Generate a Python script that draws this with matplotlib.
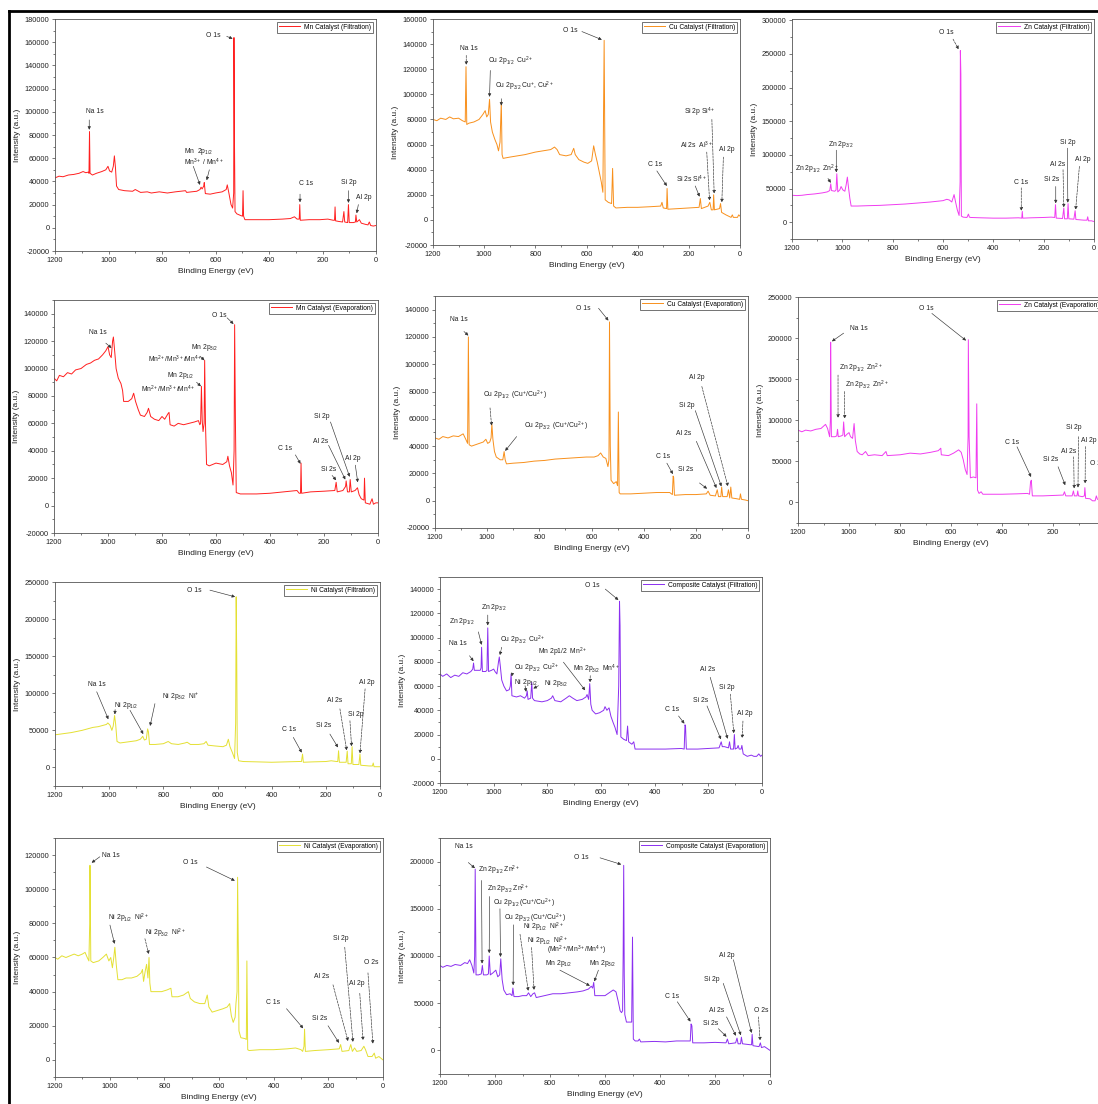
import matplotlib
matplotlib.use('Agg')
import matplotlib.pyplot as plt
from matplotlib.ticker import MultipleLocator, AutoMinorLocator, FuncFormatter
from matplotlib.lines import Line2D

plt.rcParams['font.family'] = ['Liberation Sans', 'DejaVu Sans']
plt.rcParams['mathtext.fontset'] = 'custom'
plt.rcParams['mathtext.rm'] = 'Liberation Sans'
plt.rcParams['mathtext.it'] = 'Liberation Sans:italic'
plt.rcParams['mathtext.bf'] = 'Liberation Sans:bold'

########################################
# Survey spectra, (binding energy eV, intensity a.u.).

mn_filt = [
    (1200, 43000), (1185, 44500), (1170, 44000), (1150, 45500), (1130, 46000), (1110, 47000),
    (1095, 48500), (1085, 47500), (1075, 48000), (1073, 47000), (1071, 83000), (1069, 47000),
    (1060, 45500), (1045, 47000), (1025, 48500), (1010, 50000), (1002, 53000), (996, 49000),
    (988, 48000), (982, 53000), (978, 62000), (974, 52000), (970, 36000), (962, 33000),
    (940, 32000), (910, 31500), (900, 33000), (880, 30500), (855, 31000), (840, 30000),
    (810, 31000), (780, 30000), (750, 31000), (712, 32000), (708, 30500), (690, 31000),
    (670, 31500), (658, 33000), (654, 35000), (650, 33500), (644, 36000), (642, 39000),
    (638, 29500), (620, 29000), (600, 30000), (575, 31000), (560, 33000), (556, 37000),
    (550, 30000), (542, 20000), (536, 17000), (532, 30000), (531, 164000), (529, 72000),
    (527, 14000), (520, 12000), (505, 10500), (499, 10000), (497, 32000), (495, 10000),
    (490, 7000), (450, 7000), (400, 7000), (350, 7500), (320, 8000), (305, 9500), (295, 7500),
    (287, 7500), (285, 20000), (283, 6500), (250, 7000), (210, 7000), (180, 7500), (160, 6500),
    (155, 6500), (153, 18000), (151, 6000), (140, 5500), (125, 5000), (120, 14000), (117, 5000),
    (106, 4500), (103, 20000), (100, 4500), (85, 4500), (77, 5000), (75, 11000), (72, 5000),
    (62, 7000), (55, 4000), (40, 3000), (30, 2500), (25, 5000), (20, 2000), (10, 1500), (0, 2000)]

cu_filt = [
    (1200, 80000), (1185, 79000), (1170, 81000), (1150, 80000), (1135, 82000), (1120, 80500),
    (1100, 81000), (1085, 79000), (1074, 78000), (1071, 122000), (1068, 76000), (1060, 77000),
    (1040, 78000), (1020, 80000), (1005, 84000), (996, 87000), (990, 82000), (984, 84000),
    (979, 96000), (975, 78000), (968, 70000), (958, 64000), (950, 60000), (944, 55000),
    (938, 62000), (933, 94000), (930, 52000), (926, 49000), (900, 50000), (870, 51000),
    (840, 52000), (800, 54000), (770, 55000), (740, 56000), (725, 58000), (715, 56000),
    (705, 52000), (680, 51000), (660, 52000), (650, 57000), (644, 52000), (630, 48000),
    (610, 46000), (595, 45000), (580, 47000), (572, 59000), (565, 52000), (558, 46000),
    (550, 38000), (542, 30000), (536, 22000), (531, 143000), (527, 16000), (515, 14000),
    (502, 13000), (498, 41000), (494, 11000), (485, 9500), (440, 10000), (400, 10000),
    (350, 10500), (310, 11000), (305, 14000), (300, 9500), (287, 9000), (285, 25000),
    (282, 8500), (240, 9000), (200, 9500), (160, 10000), (155, 17000), (151, 9000),
    (125, 11000), (118, 14000), (112, 8000), (105, 8000), (103, 20000), (100, 8000),
    (80, 9000), (76, 13000), (72, 6000), (55, 4000), (35, 2000), (30, 4000), (26, 2000),
    (10, 2000), (5, 4000), (0, 3000)]

zn_filt = [
    (1200, 40000), (1180, 39500), (1160, 40000), (1140, 41000), (1110, 42000), (1080, 43500),
    (1060, 45000), (1050, 47000), (1046, 57000), (1043, 47000), (1030, 46000), (1025, 48000),
    (1022, 72000), (1018, 45000), (1010, 48000), (1005, 53000), (998, 48000), (990, 46000),
    (985, 55000), (980, 67000), (975, 50000), (970, 35000), (965, 24000), (940, 24000),
    (900, 24500), (850, 25000), (800, 26000), (750, 27000), (700, 28500), (650, 30000),
    (600, 32000), (585, 34000), (575, 33000), (565, 30000), (556, 41000), (550, 30000),
    (543, 18000), (536, 10000), (532, 60000), (531, 255000), (529, 220000), (527, 9000),
    (520, 7500), (505, 7000), (499, 12000), (495, 7500), (490, 7000), (450, 6500), (400, 6000),
    (350, 6000), (300, 6500), (287, 6000), (285, 16000), (283, 6000), (250, 6500), (200, 7000),
    (170, 7500), (156, 7000), (153, 26000), (150, 6000), (125, 5500), (120, 21000), (117, 5000),
    (106, 5000), (103, 27500), (100, 5000), (80, 4500), (75, 17000), (72, 4000), (40, 3000),
    (28, 3000), (25, 8000), (22, 2000), (10, 2000), (0, 1000)]

mn_evap = [
    (1200, 93000), (1190, 91000), (1180, 95000), (1165, 94000), (1150, 97000), (1135, 96000),
    (1120, 99000), (1100, 100000), (1080, 103000), (1065, 104000), (1050, 106000), (1035, 107000),
    (1020, 110000), (1008, 113000), (1000, 116000), (994, 110000), (988, 108000), (983, 120000),
    (980, 123000), (975, 112000), (970, 100000), (962, 93000), (952, 89000), (946, 84000),
    (942, 76000), (925, 76000), (912, 78000), (905, 82000), (898, 76000), (888, 70000),
    (880, 66000), (865, 65000), (855, 68000), (850, 71000), (842, 65000), (828, 63000),
    (812, 62000), (800, 65000), (790, 63000), (778, 67000), (774, 68000), (770, 59000),
    (755, 58000), (740, 60000), (720, 59000), (700, 60000), (680, 61000), (665, 62000),
    (660, 59000), (657, 60000), (654, 87000), (651, 62000), (648, 54000), (644, 60000),
    (642, 106000), (639, 60000), (635, 30000), (625, 29000), (600, 31000), (575, 30000),
    (560, 32000), (556, 36000), (550, 29000), (543, 24000), (537, 15000), (533, 40000),
    (531, 132000), (528, 60000), (525, 9500), (510, 8500), (490, 8500), (450, 8500), (400, 9000),
    (350, 10000), (300, 11000), (292, 9000), (287, 9000), (285, 31000), (283, 9000), (250, 10000),
    (200, 10500), (160, 11000), (155, 17000), (151, 10000), (130, 11000), (120, 14000),
    (118, 18000), (113, 10000), (106, 10000), (103, 19000), (99, 10000), (85, 11000),
    (76, 13000), (70, 8000), (62, 5000), (52, 4000), (50, 20000), (47, 2000), (30, 1000),
    (22, 5000), (17, 1000), (8, 2000), (0, 2000)]

cu_evap = [
    (1200, 46000), (1185, 45000), (1170, 47000), (1150, 46000), (1130, 47500), (1110, 47000),
    (1092, 49000), (1082, 45000), (1075, 42000), (1072, 120000), (1069, 41000), (1060, 40000),
    (1045, 41000), (1030, 42000), (1015, 43000), (1005, 45000), (998, 42000), (990, 43000),
    (985, 46000), (982, 56000), (978, 45000), (972, 36000), (965, 32000), (950, 30000),
    (940, 30000), (935, 36000), (931, 30000), (926, 27000), (900, 27500), (860, 28000),
    (820, 29000), (780, 29500), (740, 30500), (700, 31000), (660, 31500), (620, 32000),
    (590, 32000), (575, 33000), (565, 35000), (555, 32000), (545, 31000), (537, 25000),
    (533, 30000), (531, 131000), (528, 40000), (525, 15000), (515, 12500), (505, 14000),
    (500, 11000), (497, 65000), (494, 6000), (490, 5000), (450, 5000), (400, 5500), (350, 6000),
    (300, 6000), (290, 4500), (287, 18000), (285, 17000), (282, 4000), (240, 4500), (200, 4500),
    (160, 5000), (153, 7000), (145, 4000), (125, 3500), (118, 8000), (113, 3000), (104, 3000),
    (101, 10000), (97, 3000), (80, 3000), (75, 8000), (70, 2000), (66, 10000), (62, 2000),
    (45, 1500), (32, 1000), (29, 5000), (25, 1000), (10, 500), (0, 0)]

zn_evap = [
    (1200, 88000), (1185, 86000), (1170, 88000), (1150, 87000), (1130, 89000), (1110, 90000),
    (1092, 95000), (1084, 90000), (1076, 80000), (1073, 100000), (1072, 195000), (1069, 80000),
    (1055, 80000), (1048, 81000), (1045, 89000), (1042, 80000), (1030, 81000), (1024, 82000),
    (1021, 98000), (1017, 80000), (1008, 83000), (1000, 85000), (994, 80000), (986, 78000),
    (980, 96000), (975, 75000), (968, 62000), (958, 59000), (948, 58000), (935, 62000),
    (925, 57000), (900, 58000), (870, 57000), (855, 62000), (850, 57000), (800, 58000),
    (760, 60000), (720, 59000), (680, 61000), (650, 63000), (640, 66000), (638, 58000),
    (610, 57000), (590, 60000), (570, 64000), (560, 61000), (552, 52000), (544, 40000),
    (537, 34000), (533, 80000), (532, 198000), (529, 80000), (524, 30000), (512, 31000),
    (502, 30000), (499, 120000), (496, 15000), (490, 11000), (482, 13000), (475, 10000),
    (400, 10000), (340, 10500), (300, 11000), (292, 10000), (288, 25000), (285, 27000),
    (281, 8000), (240, 8000), (200, 8500), (160, 9000), (155, 13000), (150, 8000), (125, 8000),
    (120, 14000), (116, 8000), (106, 8000), (103, 14000), (100, 8000), (85, 7000), (77, 8000),
    (75, 18000), (72, 5000), (55, 4500), (45, 2000), (35, 2000), (30, 8000), (26, 4000),
    (12, 2000), (0, 1000)]

ni_filt = [
    (1200, 44000), (1180, 45000), (1160, 46000), (1140, 47000), (1120, 48500), (1100, 50000),
    (1080, 52000), (1060, 54000), (1040, 55000), (1020, 57000), (1010, 58000), (1005, 60000),
    (997, 57000), (990, 50000), (985, 56000), (980, 70000), (976, 58000), (971, 35000),
    (960, 33000), (940, 34000), (920, 35000), (900, 36000), (885, 38000), (876, 42000),
    (870, 37000), (863, 38000), (858, 52000), (855, 48000), (851, 31000), (830, 31000),
    (800, 32000), (782, 35000), (770, 32000), (745, 31000), (720, 33000), (712, 34000),
    (700, 31000), (670, 31000), (650, 32000), (642, 35000), (635, 30000), (610, 29000),
    (580, 28000), (567, 30000), (560, 38000), (554, 28000), (545, 20000), (537, 12000),
    (533, 60000), (531, 230000), (529, 150000), (527, 20000), (522, 9000), (505, 8000),
    (450, 7500), (400, 7000), (350, 7500), (300, 8000), (290, 8000), (286, 18000), (283, 7000),
    (250, 7500), (200, 8000), (180, 9000), (160, 8000), (156, 8000), (153, 22500), (150, 7000),
    (125, 7000), (121, 22000), (118, 5000), (106, 5000), (103, 28000), (100, 4000), (78, 4000),
    (74, 18000), (71, 3000), (40, 2000), (28, 2000), (25, 6000), (22, 1000), (10, 1000), (0, 1000)]

comp_filt = [
    (1200, 70000), (1190, 68000), (1175, 70000), (1160, 67000), (1145, 69000), (1130, 68000),
    (1115, 71000), (1100, 70000), (1085, 72000), (1078, 74000), (1075, 79000), (1072, 73000),
    (1060, 73000), (1050, 73000), (1047, 75000), (1045, 92000), (1042, 72000), (1030, 72000),
    (1025, 73000), (1022, 108000), (1019, 72000), (1008, 73000), (1000, 74000), (995, 72000),
    (988, 70000), (982, 80000), (979, 84000), (975, 76000), (970, 65000), (962, 60000),
    (952, 56000), (942, 57000), (938, 60000), (935, 70000), (932, 52000), (915, 51000),
    (900, 52000), (885, 50000), (878, 52000), (875, 56000), (872, 49000), (862, 50000),
    (858, 63000), (855, 50000), (848, 48000), (820, 47000), (800, 48000), (785, 50000),
    (780, 52000), (772, 48000), (750, 47000), (730, 50000), (718, 52000), (705, 50000),
    (690, 48000), (670, 49000), (656, 51000), (652, 53000), (646, 49000), (642, 62000),
    (638, 45000), (633, 40000), (620, 37000), (605, 38000), (590, 40000), (585, 43000),
    (578, 40000), (570, 42000), (563, 35000), (555, 30000), (548, 26000), (540, 20000),
    (534, 60000), (531, 130000), (529, 110000), (526, 18000), (515, 16000), (505, 15000),
    (501, 27000), (497, 14000), (485, 12000), (478, 14000), (473, 8000), (420, 8000),
    (360, 8000), (300, 8500), (290, 8000), (287, 28000), (285, 27000), (282, 8000), (240, 8000),
    (200, 8500), (160, 9000), (152, 14000), (148, 10000), (140, 10000), (125, 9000),
    (121, 14000), (117, 8000), (106, 8000), (103, 20000), (100, 8000), (92, 9000), (89, 11000),
    (85, 8000), (78, 8000), (75, 11000), (70, 4000), (55, 2000), (40, 3000), (30, 2000),
    (20, 2000), (12, 4000), (5, 2000), (0, 3000)]

ni_evap = [
    (1200, 60000), (1190, 59000), (1175, 61000), (1160, 60000), (1145, 61000), (1130, 62000),
    (1115, 61000), (1100, 62000), (1090, 63000), (1082, 60000), (1076, 58000), (1073, 80000),
    (1072, 114000), (1069, 58000), (1060, 57000), (1050, 57500), (1040, 58000), (1025, 60000),
    (1012, 62000), (1003, 58000), (996, 60000), (990, 54000), (985, 60000), (981, 66000),
    (976, 56000), (970, 47000), (955, 47000), (940, 48000), (920, 48000), (900, 49000),
    (885, 51000), (880, 53000), (876, 46000), (870, 52000), (865, 56000), (860, 48000),
    (856, 60000), (853, 45000), (849, 40000), (830, 40000), (810, 40000), (790, 41000),
    (776, 42000), (772, 37000), (750, 37000), (730, 38000), (712, 40000), (705, 36000),
    (690, 34000), (670, 33000), (652, 33000), (643, 38000), (637, 31000), (625, 28000),
    (605, 29000), (585, 30000), (570, 31000), (561, 33000), (555, 26000), (548, 22000),
    (541, 25000), (538, 33000), (534, 40000), (532, 107000), (529, 60000), (527, 17000),
    (520, 13000), (505, 12500), (500, 12000), (498, 58000), (495, 6000), (490, 5500),
    (450, 6000), (400, 6000), (350, 6500), (320, 7000), (300, 6000), (294, 5000), (289, 8000),
    (287, 18000), (284, 5000), (250, 5500), (200, 6000), (160, 6500), (155, 9000), (150, 5000),
    (125, 5500), (118, 9000), (112, 5000), (104, 7000), (96, 5000), (80, 5500), (70, 8000),
    (64, 6000), (55, 2000), (40, 2000), (32, 4000), (27, 1000), (15, 2000), (0, 0)]

comp_evap = [
    (1200, 90000), (1190, 88000), (1175, 90000), (1160, 89000), (1145, 91000), (1125, 90000),
    (1110, 93000), (1100, 92000), (1092, 96000), (1084, 90000), (1077, 82000), (1074, 100000),
    (1072, 192000), (1069, 80000), (1060, 80000), (1050, 81000), (1046, 90000), (1042, 80000),
    (1030, 80000), (1024, 81000), (1021, 100000), (1017, 80000), (1008, 82000), (997, 85000),
    (990, 78000), (983, 80000), (979, 97000), (974, 75000), (968, 64000), (958, 59000),
    (945, 60000), (938, 58000), (935, 66000), (931, 57000), (915, 57000), (900, 58000),
    (885, 58000), (878, 61000), (870, 57000), (862, 60000), (856, 61000), (850, 56000),
    (820, 58000), (790, 60000), (760, 60000), (730, 61000), (700, 62000), (680, 63000),
    (660, 65000), (650, 68000), (645, 66000), (641, 72000), (637, 58000), (620, 58000),
    (600, 58000), (585, 61000), (570, 64000), (560, 62000), (552, 52000), (545, 42000),
    (540, 40000), (536, 42000), (534, 100000), (532, 196000), (530, 80000), (528, 38000),
    (522, 30000), (512, 30000), (503, 30000), (500, 120000), (497, 12000), (490, 10000),
    (480, 10000), (475, 12000), (470, 9000), (420, 9500), (380, 9000), (340, 10000),
    (300, 10000), (290, 10000), (287, 28000), (284, 26000), (281, 8000), (240, 8000),
    (200, 8500), (160, 8000), (155, 12000), (150, 7000), (125, 8000), (120, 13000), (116, 7000),
    (107, 7000), (104, 14000), (100, 7000), (72, 6000), (67, 6000), (65, 17000), (62, 5000),
    (40, 4000), (35, 8000), (31, 3000), (20, 4000), (10, 2000), (0, 0)]

# peak labels: (text, x, y, ha) and leader arrows: (x0, y0, x1, y1, dashed)
mn_filt_notes = [
    ('O 1s', 608, 166000, 'center'), ('Na 1s', 1053, 100000, 'center'),
    ('Mn  2p$_{1/2}$', 664, 66000, 'center'), ('Mn$^{3+}$ / Mn$^{4+}$', 645, 56500, 'center'),
    ('C 1s', 263, 38000, 'center'), ('Si 2p', 103, 38700, 'center'), ('Al 2p', 47, 25800, 'center')]
mn_filt_arrows = [
    (558, 165000, 536, 163000, False), (1072, 93000, 1072, 84500, False),
    (683, 53000, 658, 37000, False), (623, 50000, 633, 41000, False),
    (284, 29000, 284, 22000, False), (103, 32000, 103, 21500, False), (66, 20000, 72, 12500, False)]

cu_filt_notes = [
    ('O 1s', 664, 151000, 'center'), ('Na 1s', 1061, 136500, 'center'),
    ('Cu 2p$_{1/2}$  Cu$^{2+}$', 986, 126000, 'left'),
    ('Cu 2p$_{3/2}$ Cu$^{+}$, Cu$^{2+}$', 959, 106000, 'left'),
    ('C 1s', 331, 44000, 'center'), ('Si 2s Si$^{4+}$', 188, 32500, 'center'),
    ('Al 2s  Al$^{3+}$', 236, 59000, 'left'), ('Si 2p Si$^{4+}$', 156, 85600, 'center'),
    ('Al 2p', 52, 56000, 'center')]
cu_filt_arrows = [
    (618, 150000, 540, 143500, False), (1070, 131000, 1070, 123500, True),
    (976, 119000, 979, 98000, False), (933, 96500, 933, 91000, False),
    (325, 39000, 286, 27000, False), (175, 27000, 158, 18500, False),
    (130, 54000, 119, 15500, True), (110, 80000, 101, 21000, True), (65, 50000, 71, 14000, True)]

zn_filt_notes = [
    ('O 1s', 587, 282000, 'center'), ('Zn 2p$_{3/2}$', 1004, 115000, 'center'),
    ('Zn 2p$_{1/2}$  Zn$^{2+}$', 1187, 78000, 'left'), ('C 1s', 291, 59000, 'center'),
    ('Si 2s', 167, 63000, 'center'), ('Al 2s', 143, 86000, 'center'),
    ('Si 2p', 106, 119000, 'center'), ('Al 2p', 44, 92500, 'center')]
zn_filt_arrows = [
    (560, 272000, 538, 257000, True), (1024, 107000, 1024, 74000, False),
    (1057, 65000, 1046, 58500, False), (289, 51000, 289, 17000, True),
    (152, 53000, 152, 28000, False), (123, 78000, 120, 22000, True),
    (106, 110000, 104, 29000, False), (58, 83000, 73, 18500, True)]

mn_evap_notes = [
    ('O 1s', 587, 139000, 'center'), ('Na 1s', 1037, 126500, 'center'),
    ('Mn 2p$_{3/2}$', 644, 115000, 'center'),
    ('Mn$^{2+}$/Mn$^{3+}$/Mn$^{4+}$', 752, 107000, 'center'),
    ('Mn 2p$_{1/2}$', 730, 95000, 'center'),
    ('Mn$^{2+}$/Mn$^{3+}$/Mn$^{4+}$', 777, 85000, 'center'),
    ('C 1s', 346, 41700, 'center'), ('Si 2s', 183, 26600, 'center'),
    ('Al 2s', 214, 47000, 'center'), ('Si 2p', 207, 65000, 'center'), ('Al 2p', 94, 34400, 'center')]
mn_evap_arrows = [
    (559, 137000, 535, 132500, False), (1008, 118500, 987, 115000, False),
    (659, 109000, 643, 106000, False), (672, 90000, 656, 87000, False),
    (306, 37000, 287, 30500, False), (170, 22000, 155, 18500, False),
    (183, 44000, 121, 19000, False), (176, 61000, 105, 21000, False), (84, 29500, 75, 17000, False)]

cu_evap_notes = [
    ('O 1s', 633, 141000, 'center'), ('Na 1s', 1107, 133000, 'center'),
    ('Cu 2p$_{1/2}$  (Cu$^{+}$/Cu$^{2+}$)', 1015, 77000, 'left'),
    ('Cu 2p$_{3/2}$  (Cu$^{+}$/Cu$^{2+}$)', 858, 54400, 'left'),
    ('C 1s', 324, 32400, 'center'), ('Si 2s', 241, 22700, 'center'),
    ('Al 2s', 247, 49000, 'center'), ('Si 2p', 234, 70000, 'center'), ('Al 2p', 198, 90000, 'center')]
cu_evap_arrows = [
    (573, 141000, 535, 132000, False), (1089, 124000, 1072, 121000, False),
    (989, 68000, 983, 55000, True), (887, 47000, 931, 36500, False),
    (311, 27500, 288, 19500, False), (186, 13000, 157, 8800, False),
    (198, 43500, 121, 9300, False), (202, 66000, 102, 10500, False), (177, 83700, 77, 10500, True)]

zn_evap_notes = [
    ('O 1s', 698, 236000, 'center'), ('Na 1s', 962, 212000, 'center'),
    ('Zn 2p$_{1/2}$  Zn$^{2+}$', 1041, 163000, 'left'),
    ('Zn 2p$_{3/2}$  Zn$^{2+}$', 1014, 143000, 'left'),
    ('C 1s', 361, 73000, 'center'), ('Si 2s', 211, 52700, 'center'),
    ('Al 2s', 139, 62400, 'center'), ('Si 2p', 119, 91000, 'center'),
    ('Al 2p', 60, 75800, 'center'), ('O 2s', 56, 48000, 'left')]
zn_evap_arrows = [
    (675, 230000, 541, 197000, False), (1021, 206000, 1067, 196000, False),
    (1043, 155000, 1043, 103000, True), (1017, 135000, 1017, 102000, True),
    (341, 67700, 286, 31000, False), (180, 43400, 152, 21000, False),
    (119, 55500, 117, 17000, True), (100, 80000, 102, 18000, True), (73, 68000, 74, 23000, True)]

ni_filt_notes = [
    ('O 1s', 687, 239000, 'center'), ('Na 1s', 1046, 112000, 'center'),
    ('Ni 2p$_{1/2}$', 982, 83600, 'left'), ('Ni 2p$_{3/2}$  Ni$^{+}$', 806, 95000, 'left'),
    ('C 1s', 336, 51000, 'center'), ('Si 2s', 209, 56000, 'center'),
    ('Al 2s', 166, 90000, 'center'), ('Si 2p', 89, 71400, 'center'), ('Al 2p', 49, 114000, 'center')]
ni_filt_arrows = [
    (628, 239000, 535, 230000, False), (1046, 102000, 1003, 65000, False),
    (978, 78000, 979, 71500, False),
    (923, 77000, 874, 45000, False), (831, 86000, 849, 56000, False),
    (320, 40500, 289, 20000, False), (185, 45000, 155, 27000, False),
    (148, 79000, 123, 23000, True), (111, 63000, 105, 28500, True), (55, 106000, 74, 19000, True)]

comp_filt_notes = [
    ('O 1s', 634, 143000, 'center'), ('Na 1s', 1132, 95000, 'center'),
    ('Zn 2p$_{1/2}$', 1119, 113000, 'center'), ('Zn 2p$_{3/2}$', 1001, 125000, 'center'),
    ('Cu 2p$_{3/2}$  Cu$^{2+}$', 976, 97800, 'left'),
    ('Cu 2p$_{3/2}$  Cu$^{2+}$', 926, 75000, 'left'),
    ('Ni 2p$_{1/2}$', 924, 63000, 'left'), ('Ni 2p$_{3/2}$', 814, 61700, 'left'),
    ('Mn 2p1/2  Mn$^{2+}$', 833, 87500, 'left'), ('Mn 2p$_{3/2}$  Mn$^{4+}$', 705, 74000, 'left'),
    ('C 1s', 335, 40800, 'center'), ('Si 2s', 230, 47800, 'center'),
    ('Al 2s', 202, 74000, 'center'), ('Si 2p', 130, 59000, 'center'), ('Al 2p', 66, 37500, 'center')]
comp_filt_arrows = [
    (584, 140000, 535, 131000, False), (1090, 85000, 1075, 80500, False),
    (1057, 104700, 1045, 94000, False), (1022, 118600, 1022, 110000, False),
    (970, 92000, 977, 85500, True), (930, 70500, 933, 68000, False),
    (883, 60300, 879, 55300, False), (833, 60300, 852, 58000, False),
    (740, 79700, 659, 56500, False), (640, 68600, 641, 63000, True),
    (311, 35300, 289, 29000, False), (205, 43600, 153, 16000, False),
    (193, 67200, 128, 16500, False), (118, 53300, 105, 21000, True), (71, 31100, 74, 17000, True)]

ni_evap_notes = [
    ('Na 1s', 995, 120000, 'center'), ('O 1s', 707, 115500, 'center'),
    ('Ni 2p$_{1/2}$  Ni$^{2+}$', 1005, 82700, 'left'),
    ('Ni 2p$_{3/2}$  Ni$^{2+}$', 871, 74000, 'left'),
    ('C 1s', 404, 33700, 'center'), ('Si 2s', 231, 24500, 'center'),
    ('Al 2s', 223, 48800, 'center'), ('Si 2p', 155, 71000, 'center'),
    ('Al 2p', 97, 45000, 'center'), ('O 2s', 43, 57000, 'center')]
ni_evap_arrows = [
    (1036, 119000, 1066, 115500, False), (646, 113000, 542, 105000, False),
    (999, 79000, 982, 68000, False), (871, 71000, 857, 62000, True),
    (353, 30000, 292, 18500, False), (201, 20000, 161, 10000, False),
    (183, 44000, 128, 11000, True), (140, 66000, 110, 10500, True),
    (85, 39000, 73, 11500, True), (55, 51000, 37, 9500, True)]

comp_evap_notes = [
    ('Na 1s', 1115, 216000, 'center'), ('O 1s', 685, 204000, 'center'),
    ('Zn 2p$_{1/2}$ Zn$^{2+}$', 1061, 191000, 'left'),
    ('Zn 2p$_{3/2}$ Zn$^{2+}$', 1030, 171000, 'left'),
    ('Cu 2p$_{1/2}$ (Cu$^{+}$/Cu$^{2+}$)', 1008, 156000, 'left'),
    ('Cu 2p$_{3/2}$ (Cu$^{+}$/Cu$^{2+}$)', 967, 140000, 'left'),
    ('Ni 2p$_{1/2}$  Ni$^{2+}$', 899, 130000, 'left'),
    ('Ni 2p$_{1/2}$  Ni$^{2+}$', 882, 115500, 'left'),
    ('(Mn$^{2+}$/Mn$^{3+}$/Mn$^{4+}$)', 812, 106000, 'left'),
    ('Mn 2p$_{1/2}$', 818, 92000, 'left'), ('Mn 2p$_{3/2}$', 657, 92000, 'left'),
    ('C 1s', 355, 57000, 'center'), ('Si 2s', 216, 28400, 'center'),
    ('Al 2s', 196, 42000, 'center'), ('Si 2p', 210, 75000, 'center'),
    ('Al 2p', 157, 101000, 'center'), ('O 2s', 33, 42600, 'center')]
comp_evap_arrows = [
    (1097, 199000, 1073, 193000, False), (618, 204000, 541, 197000, False),
    (1049, 180000, 1047, 92000, False), (1020, 163000, 1021, 103000, False),
    (982, 150000, 980, 99000, False), (933, 133000, 934, 69000, False),
    (909, 123000, 879, 63000, True), (867, 109000, 858, 64000, True),
    (764, 85000, 655, 68500, False), (624, 85000, 639, 73000, False),
    (337, 51500, 289, 30500, False), (188, 23000, 158, 14500, False),
    (158, 35500, 124, 15500, False), (170, 71000, 106, 16000, False),
    (133, 96000, 67, 18500, False), (42, 35500, 36, 10500, True)]

MN = '#ff1f1f'
CU = '#f8901c'
ZN = '#f03cf0'
NI = '#e4e033'
COMP = '#8b2ff0'

W, H = 1098, 1104
fig = plt.figure(figsize=(W / 100, H / 100), dpi=100)
fig.patch.set_facecolor('white')

# panel boxes in pixels: left, top, right, bottom
panels = [
    (mn_filt, MN, 'Mn Catalyst (Filtration)', (55, 19, 376, 251), (-20000, 180000), 20000,
     mn_filt_notes, mn_filt_arrows),
    (cu_filt, CU, 'Cu Catalyst (Filtration)', (433, 19, 740, 245), (-20000, 160000), 20000,
     cu_filt_notes, cu_filt_arrows),
    (zn_filt, ZN, 'Zn Catalyst (Filtration)', (792, 19, 1094, 239), (-25000, 302000), 50000,
     zn_filt_notes, zn_filt_arrows),
    (mn_evap, MN, 'Mn Catalyst (Evaporation)', (54, 300, 378, 533), (-20000, 150000), 20000,
     mn_evap_notes, mn_evap_arrows),
    (cu_evap, CU, 'Cu Catalyst (Evaporation)', (435, 296, 748, 528), (-20000, 150000), 20000,
     cu_evap_notes, cu_evap_arrows),
    (zn_evap, ZN, 'Zn Catalyst (Evaporation)', (798, 297, 1104, 523), (-25000, 250000), 50000,
     zn_evap_notes, zn_evap_arrows),
    (ni_filt, NI, 'Ni Catalyst (Filtration)', (55, 582, 380, 786), (-25000, 250000), 50000,
     ni_filt_notes, ni_filt_arrows),
    (comp_filt, COMP, 'Composite Catalyst (Filtration)', (440, 577, 762, 783), (-20000, 150000), 20000,
     comp_filt_notes, comp_filt_arrows),
    (ni_evap, NI, 'Ni Catalyst (Evaporation)', (55, 838, 383, 1077), (-10000, 130000), 20000,
     ni_evap_notes, ni_evap_arrows),
    (comp_evap, COMP, 'Composite Catalyst (Evaporation)', (440, 838, 770, 1074), (-25000, 225000), 50000,
     comp_evap_notes, comp_evap_arrows),
]

for spectrum, color, name, box, ylim, ystep, notes, arrows in panels:
    l, t, r, b = box
    ax = fig.add_axes([l / W, 1 - b / H, (r - l) / W, (b - t) / H])
    be, cps = zip(*spectrum)
    ax.plot(be, cps, color=color, lw=0.7, label=name)
    ax.set_xlim(1200, 0)
    ax.set_ylim(*ylim)
    ax.xaxis.set_major_locator(MultipleLocator(200))
    ax.xaxis.set_minor_locator(MultipleLocator(100))
    ax.yaxis.set_major_locator(MultipleLocator(ystep))
    ax.yaxis.set_minor_locator(AutoMinorLocator(2))
    ax.yaxis.set_major_formatter(FuncFormatter(lambda v, p: '%d' % int(round(v))))
    ax.tick_params(which='both', direction='out', width=0.5, colors='#444', labelsize=5.3,
                   labelcolor='#222', pad=1.5)
    ax.tick_params(which='major', length=2.5)
    ax.tick_params(which='minor', length=1.5)
    for sp in ax.spines.values():
        sp.set_linewidth(0.6)
        sp.set_color('#555')
    ax.set_xlabel('Binding Energy (eV)', fontsize=6, color='#222', labelpad=3)
    ax.set_ylabel('Intensity (a.u.)', fontsize=6, color='#222', labelpad=3)

    for txt, x, y, ha in notes:
        ax.text(x, y, txt, fontsize=4.9, ha=ha, va='center', color='#222')
    for x0, y0, x1, y1, dashed in arrows:
        ax.annotate('', xy=(x1, y1), xytext=(x0, y0),
                    arrowprops=dict(arrowstyle='-|>', color='#333', lw=0.45,
                                    linestyle='--' if dashed else '-',
                                    mutation_scale=4.5, shrinkA=0, shrinkB=0))

    leg = ax.legend(loc='upper right', fontsize=4.8, frameon=True, fancybox=False,
                    edgecolor='#333', borderpad=0.3, handlelength=3.2, handletextpad=0.6,
                    borderaxespad=0.4)
    leg.get_frame().set_linewidth(0.6)

# outer frame of the figure plate
fig.add_artist(Line2D([9 / W, 1], [1 - 11 / H, 1 - 11 / H], transform=fig.transFigure,
                      color='black', lw=2))
fig.add_artist(Line2D([9 / W, 9 / W], [0, 1 - 11 / H], transform=fig.transFigure,
                      color='black', lw=2))

fig.savefig('out.png', dpi=100)
